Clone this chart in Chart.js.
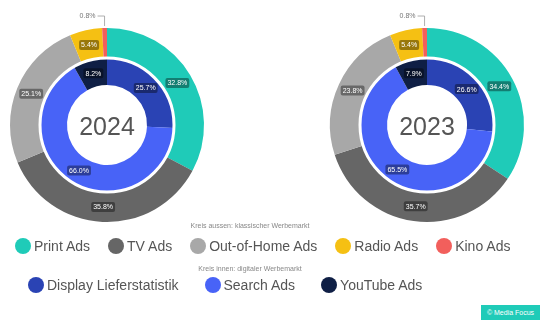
<!DOCTYPE html>
<html>
<head>
<meta charset="utf-8">
<script src="https://cdn.jsdelivr.net/npm/chart.js@4"></script>
<style>
  body { margin: 0; width: 540px; height: 320px; background: #fff; font-family: Arial, "Liberation Sans", sans-serif; position: relative; overflow: hidden; }
  .pie { position: absolute; top: 0; width: 270px; height: 230px; }
  .caption { position: absolute; left: 0; width: 500px; text-align: center; font-size: 7px; color: #888; }
  .row { position: absolute; left: 0; display: flex; align-items: center; font-size: 14px; color: #555; white-space: nowrap; }
  .item { display: flex; align-items: center; }
  .dot { width: 16px; height: 16px; border-radius: 50%; margin-right: 3px; }
  .badge { position: absolute; left: 481px; top: 305px; width: 59px; height: 15px; background: #1fcbb8; color: #fff; font-size: 7px; line-height: 15px; text-align: center; }
</style>
</head>
<body>
<div class="pie" style="left:0"><canvas id="chart2024"></canvas></div>
<div class="pie" style="left:270px"><canvas id="chart2023"></canvas></div>
<div class="caption" style="top:222px">Kreis aussen: klassischer Werbemarkt</div>
<div class="row" id="legendOuter" style="top:238px; padding-left:15px; gap:18px"></div>
<div class="caption" style="top:265px">Kreis innen: digitaler Werbemarkt</div>
<div class="row" id="legendInner" style="top:277px; padding-left:28px; gap:26px"></div>
<div class="badge">© Media Focus</div>
<script>
const outerLabels = ['Print Ads', 'TV Ads', 'Out-of-Home Ads', 'Radio Ads', 'Kino Ads'];
const outerColors = ['#1fcbb8', '#666666', '#a8a8a8', '#f5c013', '#f25f5c'];
const innerLabels = ['Display Lieferstatistik', 'Search Ads', 'YouTube Ads'];
const innerColors = ['#2a43b4', '#4863f7', '#0f1f45'];

const outer2024 = [32.8, 35.8, 25.1, 5.4, 0.8];
const inner2024 = [25.7, 66.0, 8.2];
const outer2023 = [34.4, 35.7, 23.8, 5.4, 0.8];
const inner2023 = [26.6, 65.5, 7.9];

function buildLegend(id, labels, colors) {
  const el = document.getElementById(id);
  labels.forEach((l, i) => {
    const item = document.createElement('div');
    item.className = 'item';
    item.innerHTML = '<span class="dot" style="background:' + colors[i] + '"></span>' + l;
    el.appendChild(item);
  });
}
buildLegend('legendOuter', outerLabels, outerColors);
buildLegend('legendInner', innerLabels, innerColors);

// white ring gap, value badges, year in the middle
const decor = {
  id: 'decor',
  afterDatasetsDraw(chart, args, opts) {
    const ctx = chart.ctx;
    const innerArcs = chart.getDatasetMeta(1).data;
    const cx = innerArcs[0].x, cy = innerArcs[0].y;
    ctx.save();
    ctx.strokeStyle = '#fff';
    ctx.lineWidth = 3;
    ctx.beginPath();
    ctx.arc(cx, cy, innerArcs[0].outerRadius, 0, Math.PI * 2);
    ctx.stroke();

    ctx.font = '7px Arial, "Liberation Sans", sans-serif';
    ctx.textAlign = 'center';
    ctx.textBaseline = 'middle';
    chart.data.datasets.forEach((ds, di) => {
      chart.getDatasetMeta(di).data.forEach((arc, i) => {
        const txt = ds.data[i].toFixed(1) + '%';
        if (ds.data[i] < 2) {
          const mid = (arc.startAngle + arc.endAngle) / 2;
          const x0 = cx + Math.cos(mid) * arc.outerRadius;
          const y0 = cy + Math.sin(mid) * arc.outerRadius;
          ctx.strokeStyle = '#999';
          ctx.lineWidth = 0.8;
          ctx.beginPath();
          ctx.moveTo(x0, y0 - 2);
          ctx.lineTo(x0, y0 - 12);
          ctx.lineTo(x0 - 7, y0 - 12);
          ctx.stroke();
          ctx.fillStyle = '#777';
          ctx.textAlign = 'right';
          ctx.fillText(txt, x0 - 9, y0 - 12);
          ctx.textAlign = 'center';
          return;
        }
        const p = arc.getCenterPoint();
        const w = ctx.measureText(txt).width + 4;
        ctx.fillStyle = 'rgba(0,0,0,0.38)';
        ctx.beginPath();
        ctx.roundRect(p.x - w / 2, p.y - 5, w, 10, 2);
        ctx.fill();
        ctx.fillStyle = '#fff';
        ctx.fillText(txt, p.x, p.y + 0.5);
      });
    });

    ctx.fillStyle = '#555';
    ctx.font = '25px Arial, "Liberation Sans", sans-serif';
    ctx.fillText(opts.year, cx, cy + 3);
    ctx.restore();
  }
};

function makeChart(id, year, outerData, innerData, pad) {
  return new Chart(document.getElementById(id), {
    type: 'doughnut',
    data: {
      labels: outerLabels,
      datasets: [
        { data: outerData, backgroundColor: outerColors, borderWidth: 0, weight: 30 },
        { data: innerData, backgroundColor: innerColors, borderWidth: 0, weight: 27 }
      ]
    },
    options: {
      responsive: false,
      animation: false,
      cutout: 40,
      layout: { padding: pad },
      plugins: {
        legend: { display: false },
        tooltip: { enabled: false },
        decor: { year: year }
      }
    },
    plugins: [decor]
  });
}

document.querySelectorAll('canvas').forEach(c => { c.width = 270; c.height = 230; });
makeChart('chart2024', '2024', outer2024, inner2024, { left: 10, right: 66, top: 28, bottom: 8 });
makeChart('chart2023', '2023', outer2023, inner2023, { left: 60, right: 16, top: 28, bottom: 8 });
</script>
</body>
</html>
